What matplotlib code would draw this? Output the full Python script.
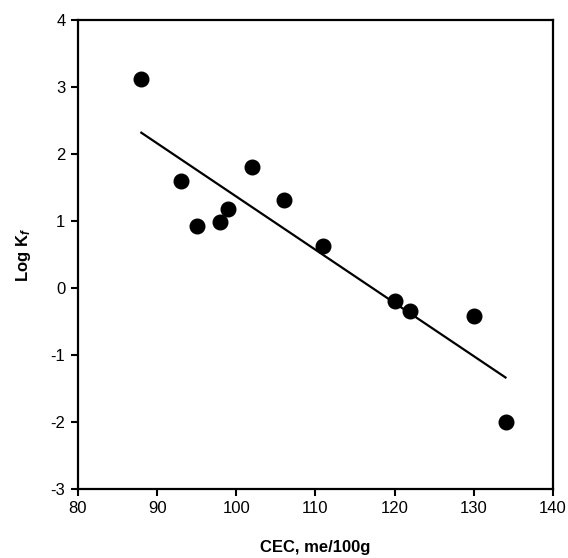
"""Log Kf vs CEC scatter with linear regression line."""

import numpy as np
import matplotlib
matplotlib.use("Agg")
import matplotlib.pyplot as plt

# CEC values (me/100g) and log Kf
cec = [88, 93, 95, 98, 99, 102, 106, 111, 120, 122, 130, 134]
log_kf = [3.12, 1.60, 0.93, 0.98, 1.18, 1.80, 1.32, 0.63, -0.20, -0.35, -0.42, -2.00]

x_ticks = [80, 90, 100, 110, 120, 130, 140]
y_ticks = [-3, -2, -1, 0, 1, 2, 3, 4]

plt.rcParams["font.family"] = ["Liberation Sans", "DejaVu Sans"]
plt.rcParams["axes.unicode_minus"] = False
plt.rcParams["mathtext.fontset"] = "custom"
plt.rcParams["mathtext.it"] = "Liberation Sans:italic:bold"
plt.rcParams["mathtext.rm"] = "Liberation Sans:bold"

fig = plt.figure(figsize=(5.68, 5.58), dpi=100)
ax = fig.add_axes([0.1373, 0.1237, 0.8363, 0.8405])

# data points
ax.plot(cec, log_kf, "o", color="black", markersize=10.5, zorder=3)

# least squares fit drawn across the data range
slope, intercept = np.polyfit(cec, log_kf, 1)
fit_x = np.array([min(cec), max(cec)])
ax.plot(fit_x, slope * fit_x + intercept, color="black", linewidth=1.6)

ax.set_xlim(80, 140)
ax.set_ylim(-3, 4)
ax.set_xticks(x_ticks)
ax.set_yticks(y_ticks)
ax.tick_params(direction="out", length=5, width=1.5, labelsize=12, pad=4)

for spine in ax.spines.values():
    spine.set_linewidth(1.6)

ax.set_xlabel("CEC, me/100g", fontsize=12, fontweight="bold", labelpad=17)
ax.set_ylabel(r"Log K$\mathit{_{f}}$", fontsize=12, fontweight="bold", labelpad=13)

fig.savefig("out.png", dpi=100)
